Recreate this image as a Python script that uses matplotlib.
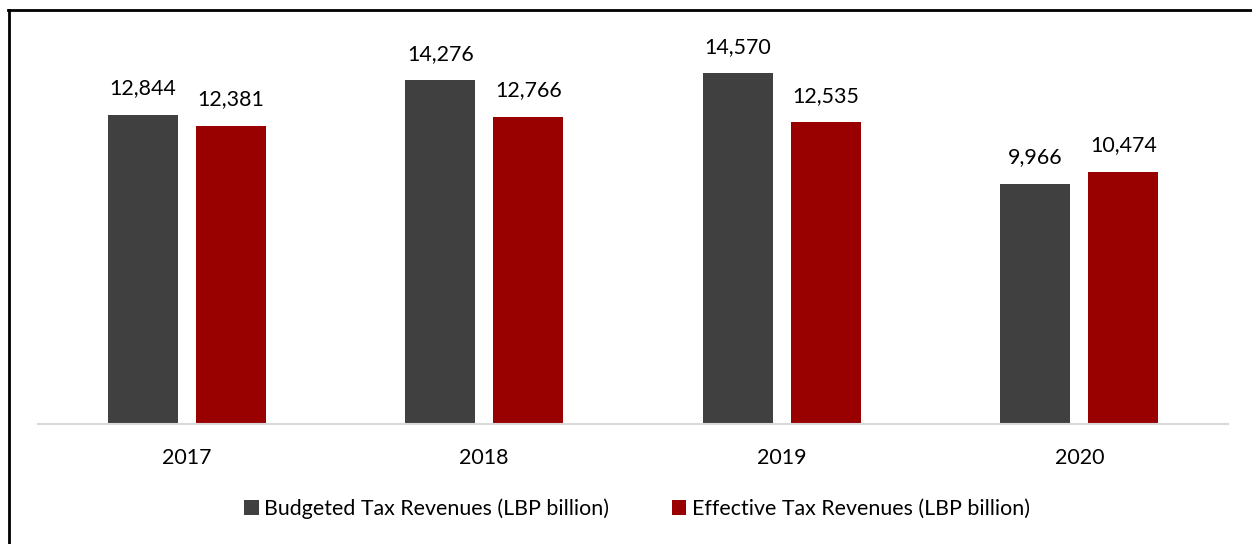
import matplotlib
matplotlib.use("Agg")
import matplotlib.pyplot as plt
import numpy as np
from matplotlib.lines import Line2D

years = ["2017", "2018", "2019", "2020"]
budgeted = [12844, 14276, 14570, 9966]
effective = [12381, 12766, 12535, 10474]
series_names = ["Budgeted Tax Revenues (LBP billion)", "Effective Tax Revenues (LBP billion)"]
colors = ["#404040", "#990000"]

plt.rcParams['font.family'] = ['Lato', 'DejaVu Sans']
FS = 15.4

W, H = 1252, 544
fig = plt.figure(figsize=(W / 100, H / 100), dpi=100)
ax = fig.add_axes([38 / W, (H - 424) / H, (1228 - 38) / W, (424 - 39) / H])

x = np.arange(len(years))
bw = 0.235
off = 0.148
b1 = ax.bar(x - off, budgeted, bw, color=colors[0], label=series_names[0])
b2 = ax.bar(x + off, effective, bw, color=colors[1], label=series_names[1])

for bars, vals in ((b1, budgeted), (b2, effective)):
    for r, v in zip(bars, vals):
        ax.annotate(f"{v:,}", (r.get_x() + r.get_width() / 2, v), xytext=(0, 12),
                    textcoords="offset points", ha="center", va="bottom", fontsize=FS, color="black")

ax.set_xlim(-0.5, len(years) - 0.5)
ax.set_ylim(0, 16000)
ax.set_xticks(x)
ax.set_xticklabels(years, fontsize=FS)
ax.tick_params(axis='x', length=0, pad=17.5)
ax.set_yticks([])
for s in ("top", "right", "left"):
    ax.spines[s].set_visible(False)
ax.spines["bottom"].set_color("#d9d9d9")
ax.spines["bottom"].set_linewidth(1.5)

leg = fig.legend(handles=[b1, b2], labels=series_names, loc="center",
                 bbox_to_anchor=(637 / W, 1 - 509 / H), ncol=2, frameon=False,
                 fontsize=FS, handlelength=0.7, handleheight=0.7, handletextpad=0.25,
                 columnspacing=2.9)

# outer border (top and left only visible)
fig.add_artist(Line2D([8.5 / W, 8.5 / W], [0, 1 - 9.5 / H], color="black", lw=2, transform=fig.transFigure))
fig.add_artist(Line2D([8 / W, 1], [1 - 9.5 / H, 1 - 9.5 / H], color="black", lw=2, transform=fig.transFigure))

fig.savefig("out.png", dpi=100, facecolor="white")
